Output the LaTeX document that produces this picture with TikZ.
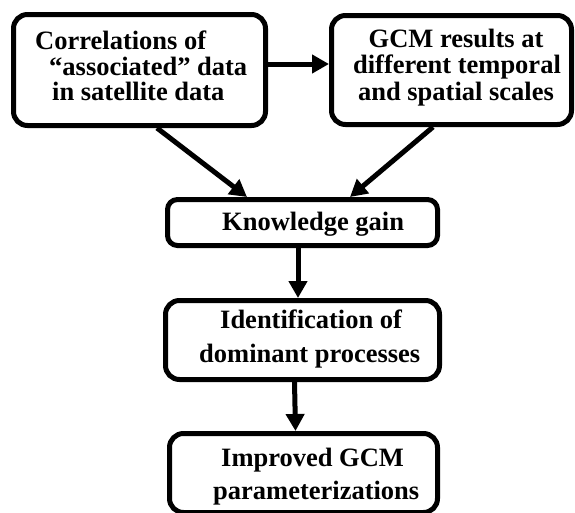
\documentclass[tikz,border=0pt]{standalone}
\usepackage{fontspec}
\setmainfont{Liberation Serif}
\usetikzlibrary{arrows.meta}
\tikzset{
  box/.style={draw, line width=5pt, rounded corners=14pt, inner sep=0pt, outer sep=2.5pt},
  txt/.style={inner sep=0pt, font=\fontsize{26.5}{26.5}\selectfont\bfseries},
  conn/.style={line width=5pt, -{Triangle[length=17pt,width=18pt]}}
}
\begin{document}
\begin{tikzpicture}[x=1pt,y=-1pt]
\useasboundingbox (0,0) rectangle (575,512);
% boxes
\node[box, minimum width=252pt, minimum height=111pt] (a) at (139.5,70) {};
\node[box, minimum width=240pt, minimum height=109pt] (b) at (451.5,70) {};
\node[box, rounded corners=10pt, minimum width=270pt, minimum height=46pt] (k) at (302.5,222.5) {};
\node[box, minimum width=274pt, minimum height=79pt] (i) at (302.5,340) {};
\node[box, minimum width=268pt, minimum height=79pt] (p) at (303.5,473) {};
% texts
\node[txt, anchor=base west] (a1) at (35,49) {Correlations of};
\node[txt, anchor=base west] (a2) at (49,75) {“associated” data};
\node[txt, anchor=base west] (a3) at (52,100) {in satellite data};
\node[txt, anchor=base] (b1) at (456,47) {GCM results at};
\node[txt, anchor=base] (b2) at (457,73) {different temporal};
\node[txt, anchor=base] (b3) at (456,100) {and spatial scales};
\node[txt, anchor=base west] (k1) at (222,230) {Knowledge gain};
\node[txt, anchor=base west] (i1) at (220,328) {Identification of};
\node[txt, anchor=base west] (i2) at (199,362) {dominant processes};
\node[txt, anchor=base west] (p1) at (221,466) {Improved GCM};
\node[txt, anchor=base west] (p2) at (213,499) {parameterizations};
% connectors
\draw[conn] ([yshift=6pt]a.east) -- ([yshift=6pt]b.west);
\draw[conn] ([xshift=17.5pt]a.south) -- ([xshift=-55.5pt]k.north);
\draw[conn] ([xshift=-18.5pt]b.south) -- ([xshift=47.5pt]k.north);
\draw[conn] ([xshift=-4.5pt]k.south) -- ([xshift=-4.5pt]i.north);
\draw[conn] ([xshift=-8pt]i.south) -- ([xshift=-8pt]p.north);
\end{tikzpicture}
\end{document}
